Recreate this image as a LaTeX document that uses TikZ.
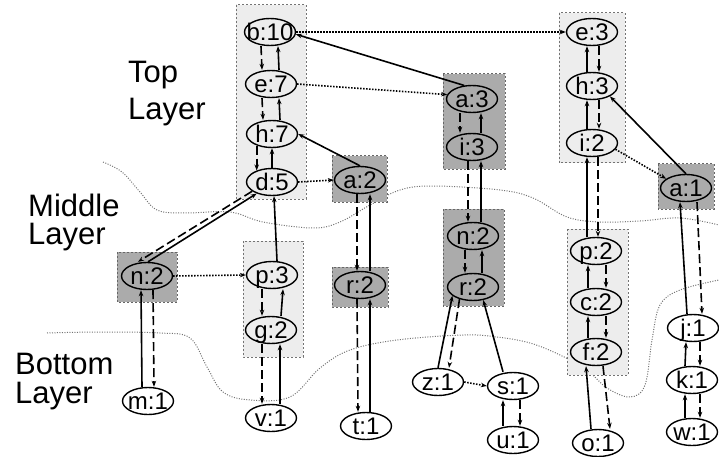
\documentclass[tikz,border=0pt]{standalone}
\usepackage{fontspec}
\setmainfont{Liberation Sans}
\usetikzlibrary{arrows.meta,shapes.geometric}
\newcommand{\ntxt}[1]{\makebox[0pt]{#1}}
\begin{document}
\begin{tikzpicture}[x=1pt,y=-1pt,
  nd/.style={ellipse, draw, line width=1.4pt, minimum width=51pt, minimum height=27pt, inner sep=0pt,
    text height=17pt, text depth=0pt, font=\fontsize{24}{24}\selectfont},
  lightbox/.style={fill=black!7, draw=black!55, dash pattern=on 2pt off 2pt, line width=1pt},
  darkbox/.style={fill=black!33, draw=black!60, dash pattern=on 2pt off 2pt, line width=1pt},
  tip/.style={-{Stealth[length=6pt,width=4.5pt]}},
  up/.style={line width=1.6pt, tip},
  dn/.style={line width=1.6pt, dash pattern=on 9pt off 4pt, tip},
  sib/.style={line width=1.6pt, dash pattern=on 1.5pt off 1.5pt, tip},
  layer/.style={black!55, line width=1pt, dash pattern=on 1pt off 1.5pt},
  lbl/.style={align=left, anchor=north west, inner sep=0pt}]
\useasboundingbox (0,0) rectangle (719,457);

% layer boundaries
\draw[layer] plot[smooth, tension=0.6] coordinates {(103,162) (122,172) (140,192) (157,210) (185,213) (230,212) (263,222) (313,228) (340,222) (370,205) (400,190) (433,186) (500,190) (533,198) (567,217) (600,222) (640,221) (680,218) (719,225)};
\draw[layer] plot[smooth, tension=0.6] coordinates {(47,333) (100,332) (160,333) (190,338) (207,367) (223,392) (250,400) (290,397) (320,368) (350,350) (397,340) (463,335) (497,337) (530,343) (560,355) (587,370) (607,388) (630,397) (645,385) (652,340) (660,305) (680,290) (719,280)};

% group boxes
\draw[lightbox] (236,5) rectangle (306,199);
\draw[darkbox] (332,156) rectangle (387,202);
\draw[darkbox] (332,267) rectangle (388,307);
\draw[darkbox] (443,74) rectangle (505,169);
\draw[darkbox] (443,209) rectangle (504,306);
\draw[lightbox] (559,13) rectangle (625,163);
\draw[darkbox] (658,164) rectangle (714,209);
\draw[lightbox] (567,229) rectangle (628,375);
\draw[darkbox] (117,252) rectangle (177,302);
\draw[lightbox] (243,241) rectangle (303,357);

% layer labels
\node[lbl, font=\fontsize{31}{37}\selectfont] (ltop) at (128,61) {Top\\Layer};
\node[lbl, font=\fontsize{31}{28}\selectfont] (lmid) at (28,194) {Middle\\Layer};
\node[lbl, font=\fontsize{31}{29}\selectfont] (lbot) at (15,353) {Bottom\\Layer};

% nodes
\node[nd] (b10) at (270,32) {\ntxt{b:10}};
\node[nd] (e7) at (271,84) {\ntxt{e:7}};
\node[nd] (h7) at (272,134) {\ntxt{h:7}};
\node[nd] (d5) at (272,182) {\ntxt{d:5}};
\node[nd] (a2) at (360,180) {\ntxt{a:2}};
\node[nd] (r2a) at (360,285) {\ntxt{r:2}};
\node[nd] (t1) at (366,426) {\ntxt{t:1}};
\node[nd] (a3) at (472,99) {\ntxt{a:3}};
\node[nd] (i3) at (472,147) {\ntxt{i:3}};
\node[nd] (n2m) at (473,236) {\ntxt{n:2}};
\node[nd] (r2m) at (473,287) {\ntxt{r:2}};
\node[nd] (z1) at (438,382) {\ntxt{z:1}};
\node[nd] (s1) at (513,386) {\ntxt{s:1}};
\node[nd] (u1) at (513,440) {\ntxt{u:1}};
\node[nd] (e3) at (592,32) {\ntxt{e:3}};
\node[nd] (h3) at (592,86) {\ntxt{h:3}};
\node[nd] (i2) at (592,143) {\ntxt{i:2}};
\node[nd] (a1) at (686,188) {\ntxt{a:1}};
\node[nd] (j1) at (693,328) {\ntxt{j:1}};
\node[nd] (k1) at (692,380) {\ntxt{k:1}};
\node[nd] (w1) at (692,432) {\ntxt{w:1}};
\node[nd] (p2) at (596,251) {\ntxt{p:2}};
\node[nd] (c2) at (596,302) {\ntxt{c:2}};
\node[nd] (f2) at (596,352) {\ntxt{f:2}};
\node[nd] (o1) at (598,443) {\ntxt{o:1}};
\node[nd] (n2l) at (147,276) {\ntxt{n:2}};
\node[nd] (m1) at (148,401) {\ntxt{m:1}};
\node[nd] (p3) at (272,275) {\ntxt{p:3}};
\node[nd] (g2) at (271,330) {\ntxt{g:2}};
\node[nd] (v1) at (271,418) {\ntxt{v:1}};

% left tree column
\draw[dn] ([xshift=-9pt]b10.south) -- ([xshift=-9pt]e7.north);
\draw[up] ([xshift=8pt]e7.north) -- ([xshift=8pt]b10.south);
\draw[dn] ([xshift=-9pt]e7.south) -- ([xshift=-9pt]h7.north);
\draw[up] ([xshift=8pt]h7.north) -- ([xshift=8pt]e7.south);
\draw[dn] (h7.-143) -- (d5.143);
\draw[up] (d5.north) -- (h7.south);
\draw[sib] (d5.east) -- (a2.west);
\draw[up] (a2.north) -- (h7.east);
\draw[dn] ([xshift=-3pt]a2.south) -- ([xshift=-3pt]r2a.north);
\draw[up] ([xshift=10pt]r2a.north) -- ([xshift=10pt]a2.south);
\draw[dn] ([xshift=-3pt]r2a.south) -- ([xshift=-8pt]t1.north);
\draw[up] ([xshift=4pt]t1.north) -- ([xshift=10pt]r2a.south);

% top dotted links
\draw[sib] (b10.east) -- (e3.west);
\draw[sib] (e7.east) -- (a3.170);
\draw[up] (a3.120) -- (b10.-5);

% a:3 column
\draw[dn] ([xshift=-12pt]a3.south) -- ([xshift=-12pt]i3.north);
\draw[up] ([xshift=9pt]i3.north) -- ([xshift=9pt]a3.south);
\draw[dn] ([xshift=-4pt]i3.south) -- ([xshift=-5pt]n2m.north);
\draw[up] ([xshift=8pt]n2m.north) -- ([xshift=9pt]i3.south);
\draw[dn] ([xshift=-8pt]n2m.south) -- ([xshift=-8pt]r2m.north);
\draw[up] ([xshift=9pt]r2m.north) -- ([xshift=9pt]n2m.south);
\draw[up] (z1.north) -- (r2m.-157);
\draw[dn] (r2m.-138) -- ([xshift=11pt]z1.north);
\draw[up] ([xshift=-10pt]s1.north) -- (r2m.-52);
\draw[sib] (z1.east) -- (s1.west);
\draw[up] ([xshift=-10pt]u1.north) -- ([xshift=-10pt]s1.south);
\draw[dn] ([xshift=7pt]s1.south) -- ([xshift=7pt]u1.north);

% right column
\draw[up] ([xshift=-5pt]h3.north) -- ([xshift=-5pt]e3.south);
\draw[dn] ([xshift=7pt]e3.south) -- ([xshift=7pt]h3.north);
\draw[up] ([xshift=-5pt]i2.north) -- ([xshift=-5pt]h3.south);
\draw[dn] ([xshift=7pt]h3.south) -- ([xshift=7pt]i2.north);
\draw[up] ([xshift=-9pt]p2.north) -- ([xshift=-5pt]i2.south);
\draw[dn] ([xshift=6pt]i2.south) -- ([xshift=2pt]p2.north);
\draw[sib] (i2.-15) -- (a1.155);
\draw[up] (a1.north) -- (h3.-30);
\draw[up] ([xshift=-6pt]j1.north) -- ([xshift=-6pt]a1.south);
\draw[dn] ([xshift=11pt]a1.south) -- ([xshift=9pt]j1.north);
\draw[up] ([xshift=-7pt]k1.north) -- ([xshift=-7pt]j1.south);
\draw[dn] ([xshift=7pt]j1.south) -- ([xshift=8pt]k1.north);
\draw[up] ([xshift=-7pt]w1.north) -- ([xshift=-7pt]k1.south);
\draw[dn] ([xshift=8pt]k1.south) -- ([xshift=8pt]w1.north);
\draw[up] ([xshift=-8pt]c2.north) -- ([xshift=-8pt]p2.south);
\draw[dn] ([xshift=10pt]p2.south) -- ([xshift=10pt]c2.north);
\draw[up] ([xshift=-8pt]f2.north) -- ([xshift=-8pt]c2.south);
\draw[dn] ([xshift=10pt]c2.south) -- ([xshift=10pt]f2.north);
\draw[up] ([xshift=-7pt]o1.north) -- ([xshift=-10pt]f2.south);
\draw[dn] ([xshift=7pt]f2.south) -- ([xshift=12pt]o1.north);

% left part
\draw[dn] (d5.-155) -- ([xshift=-9pt]n2l.north);
\draw[up] ([xshift=1pt]n2l.north) -- (d5.-143);
\draw[sib] (n2l.east) -- (p3.west);
\draw[up] ([xshift=5pt]p3.north) -- ([xshift=2pt]d5.south);
\draw[dn] ([xshift=-10pt]p3.south) -- ([xshift=-9pt]g2.north);
\draw[up] ([xshift=10pt]g2.north) -- ([xshift=11pt]p3.south);
\draw[dn] ([xshift=-9pt]g2.south) -- ([xshift=-9pt]v1.north);
\draw[up] ([xshift=9pt]v1.north) -- ([xshift=9pt]g2.south);
\draw[up] ([xshift=-6pt]m1.north) -- ([xshift=-6pt]n2l.south);
\draw[dn] ([xshift=6pt]n2l.south) -- ([xshift=6pt]m1.north);
\end{tikzpicture}
\end{document}
